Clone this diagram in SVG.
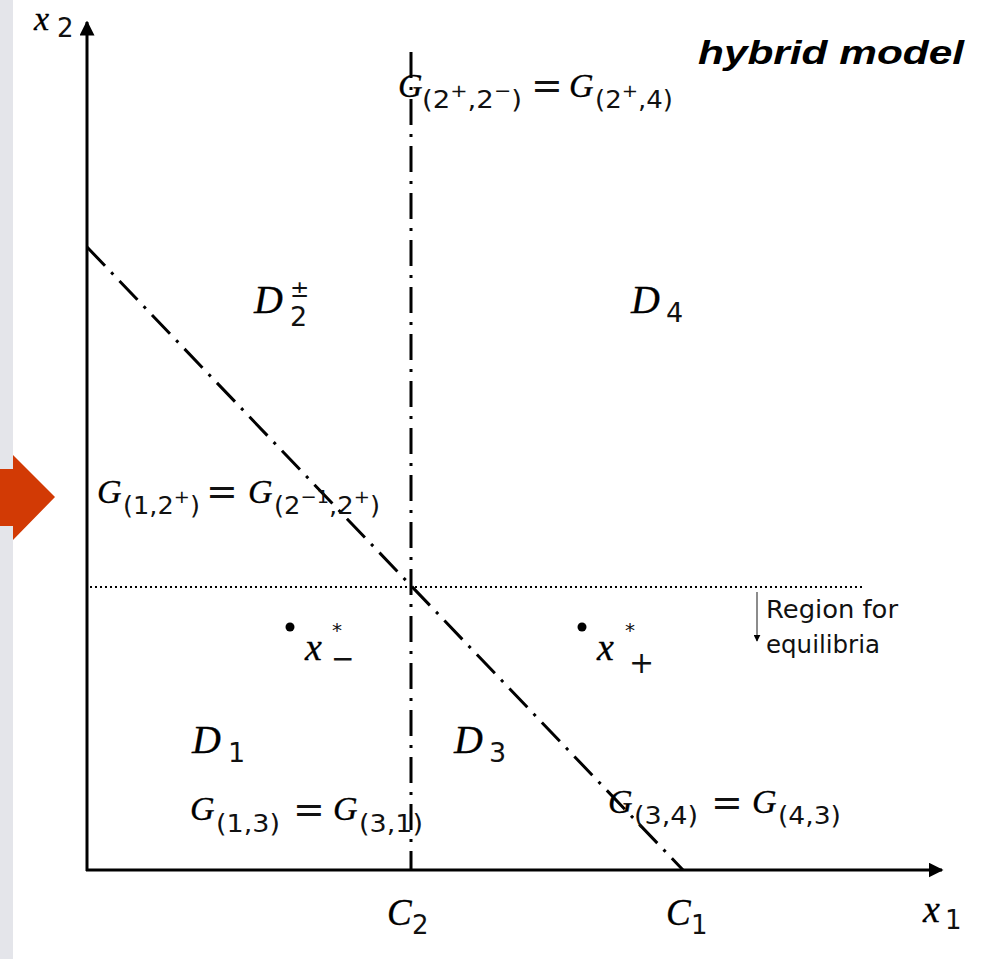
<svg xmlns="http://www.w3.org/2000/svg" width="992" height="959" viewBox="0 0 992 959">
<defs>
<style>
.m{font-family:"Liberation Serif","DejaVu Serif",serif;font-style:italic;fill:#000;stroke:#000;stroke-width:0.3}
.s{font-family:"DejaVu Sans","Liberation Sans",sans-serif;fill:#111}
.axis{stroke:#000;stroke-width:3;fill:none}
.dd{stroke:#000;stroke-width:3;fill:none;stroke-dasharray:26 9 3 9}
</style>
<marker id="ah" viewBox="0 0 10 10" refX="9" refY="5" markerWidth="7" markerHeight="7" markerUnits="userSpaceOnUse" orient="auto"><path d="M0,0 L10,5 L0,10 z" fill="#000"/></marker>
<marker id="ax" viewBox="0 0 10 10" refX="9" refY="5" markerWidth="5" markerHeight="5" orient="auto"><path d="M0,0 L10,5 L0,10 z" fill="#000"/></marker>
</defs>
<rect width="992" height="959" fill="#fff"/>
<rect x="0" y="0" width="13" height="959" fill="#e4e5ea"/>
<polygon id="pointer" points="0,469 13,469 13,455 55,497 13,540 13,526 0,526" fill="#d23a05"/>

<g id="axes">
<line class="axis" x1="87" y1="871" x2="87" y2="22" marker-end="url(#ax)"/>
<line class="axis" x1="86" y1="870" x2="942" y2="870" marker-end="url(#ax)"/>
</g>

<g id="connectors">
<line class="dd" x1="411" y1="52" x2="411" y2="870"/>
<line class="dd" x1="87" y1="247" x2="683" y2="870"/>
<line x1="90" y1="587" x2="862" y2="587" stroke="#000" stroke-width="2" stroke-dasharray="2 3"/>
<line x1="757" y1="592" x2="757" y2="641" stroke="#666" stroke-width="1.5" marker-end="url(#ah)"/>
</g>

<g id="title"><text x="698" y="64" font-family="Liberation Sans,Arial,sans-serif" font-weight="bold" font-style="italic" font-size="33" textLength="266" lengthAdjust="spacingAndGlyphs">hybrid model</text></g>

<g id="x2label"><text class="m" x="34" y="30" font-size="34">x</text><text class="s" x="57" y="37" font-size="26">2</text></g>
<g id="x1label"><text class="m" x="923" y="922" font-size="38">x</text><text class="s" x="945" y="929" font-size="26">1</text></g>
<g id="C2"><text class="m" x="387" y="925" font-size="37">C</text><text class="s" x="412" y="934" font-size="26">2</text></g>
<g id="C1"><text class="m" x="666" y="925" font-size="37">C</text><text class="s" x="691" y="934" font-size="26">1</text></g>

<g id="G-top">
<text class="m" x="398" y="97" font-size="34">G</text>
<text class="s" x="422" y="108" font-size="24" textLength="100" lengthAdjust="spacingAndGlyphs">(2<tspan dy="-11" font-size="18">+</tspan><tspan dy="11">,2</tspan><tspan dy="-11" font-size="18">−</tspan><tspan dy="11">)</tspan></text>
<text class="s" x="531" y="98" font-size="38">=</text>
<text class="m" x="569" y="97" font-size="34">G</text>
<text class="s" x="595" y="108" font-size="24" textLength="78" lengthAdjust="spacingAndGlyphs">(2<tspan dy="-11" font-size="18">+</tspan><tspan dy="11">,4)</tspan></text>
</g>

<g id="D2"><text class="m" x="254" y="313" font-size="40">D</text><text class="s" x="290" y="297" font-size="23">±</text><text class="s" x="290" y="326" font-size="27">2</text></g>
<g id="D4"><text class="m" x="631" y="313" font-size="40">D</text><text class="s" x="666" y="322" font-size="27">4</text></g>

<g id="G-left">
<text class="m" x="97" y="503" font-size="34">G</text>
<text class="s" x="123" y="514" font-size="24" textLength="77" lengthAdjust="spacingAndGlyphs">(1,2<tspan dy="-11" font-size="18">+</tspan><tspan dy="11">)</tspan></text>
<text class="s" x="206" y="504" font-size="38">=</text>
<text class="m" x="248" y="503" font-size="34">G</text>
<text class="s" x="274" y="514" font-size="24" textLength="106" lengthAdjust="spacingAndGlyphs">(2<tspan dy="-11" font-size="18">−1</tspan><tspan dy="11">,2</tspan><tspan dy="-11" font-size="18">+</tspan><tspan dy="11">)</tspan></text>
</g>

<g id="region-label">
<text class="s" x="766" y="618" font-size="24" textLength="132" lengthAdjust="spacingAndGlyphs">Region for</text>
<text class="s" x="766" y="653" font-size="24" textLength="114" lengthAdjust="spacingAndGlyphs">equilibria</text>
</g>

<g id="xminus"><circle cx="290" cy="627" r="4.5" fill="#000"/><text class="m" x="305" y="660" font-size="38">x</text><text class="s" x="332" y="637" font-size="20">*</text><text class="s" x="331" y="668" font-size="28">−</text></g>
<g id="xplus"><circle cx="582" cy="627" r="4.5" fill="#000"/><text class="m" x="597" y="660" font-size="38">x</text><text class="s" x="625" y="637" font-size="20">*</text><text class="s" x="629" y="673" font-size="30">+</text></g>

<g id="D1"><text class="m" x="192" y="753" font-size="40">D</text><text class="s" x="228" y="762" font-size="27">1</text></g>
<g id="D3"><text class="m" x="454" y="753" font-size="40">D</text><text class="s" x="489" y="762" font-size="27">3</text></g>

<g id="G-bottom-left">
<text class="m" x="190" y="820" font-size="34">G</text>
<text class="s" x="216" y="832" font-size="24" textLength="64" lengthAdjust="spacingAndGlyphs">(1,3)</text>
<text class="s" x="293" y="822" font-size="38">=</text>
<text class="m" x="333" y="820" font-size="34">G</text>
<text class="s" x="359" y="832" font-size="24" textLength="64" lengthAdjust="spacingAndGlyphs">(3,1)</text>
</g>
<g id="G-bottom-right">
<text class="m" x="608" y="813" font-size="34">G</text>
<text class="s" x="634" y="824" font-size="24" textLength="64" lengthAdjust="spacingAndGlyphs">(3,4)</text>
<text class="s" x="711" y="815" font-size="38">=</text>
<text class="m" x="752" y="813" font-size="34">G</text>
<text class="s" x="778" y="824" font-size="24" textLength="63" lengthAdjust="spacingAndGlyphs">(4,3)</text>
</g>
</svg>
